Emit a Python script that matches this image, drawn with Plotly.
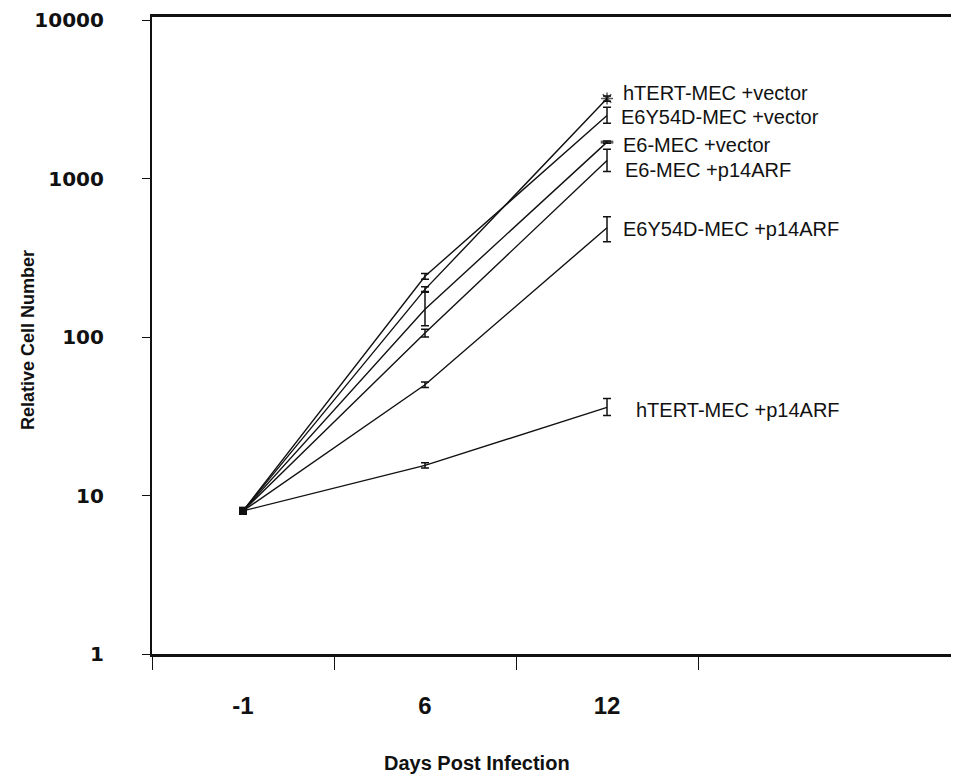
import plotly.graph_objects as go

# ---- data ----
days = ["-1", "6", "12"]
series_names = [
    "hTERT-MEC +vector",
    "E6Y54D-MEC +vector",
    "E6-MEC +vector",
    "E6-MEC +p14ARF",
    "E6Y54D-MEC +p14ARF",
    "hTERT-MEC +p14ARF",
]
hTERT_vector = [8.0, 200, 3200]
E6Y54D_vector = [8.0, 242, 2500]
E6_vector = [8.0, 150, 1700]
E6_p14ARF = [8.0, 106, 1300]
E6Y54D_p14ARF = [8.0, 50, 490]
hTERT_p14ARF = [8.0, 15.5, 36]

err_plus = {
    "hTERT-MEC +vector": [0, 8, 120],
    "E6Y54D-MEC +vector": [0, 10, 320],
    "E6-MEC +vector": [0, 44, 30],
    "E6-MEC +p14ARF": [0, 6, 230],
    "E6Y54D-MEC +p14ARF": [0, 2, 85],
    "hTERT-MEC +p14ARF": [0, 0.6, 5],
}
err_minus = {
    "hTERT-MEC +vector": [0, 8, 120],
    "E6Y54D-MEC +vector": [0, 10, 260],
    "E6-MEC +vector": [0, 32, 30],
    "E6-MEC +p14ARF": [0, 6, 190],
    "E6Y54D-MEC +p14ARF": [0, 2, 90],
    "hTERT-MEC +p14ARF": [0, 0.6, 4],
}
values = [hTERT_vector, E6Y54D_vector, E6_vector, E6_p14ARF, E6Y54D_p14ARF, hTERT_p14ARF]

y_ticks = [1, 10, 100, 1000, 10000]
y_tick_labels = ["1", "10", "100", "1000", "10000"]

# ---- figure ----
xpos = list(range(len(days)))
fig = go.Figure()

end_symbols = {
    "hTERT-MEC +vector": ("asterisk-open", 10, 1.5),
    "E6-MEC +vector": ("line-ew-open", 9, 3),
}

for name, vals in zip(series_names, values):
    sym_end, size_end, lw_end = end_symbols.get(name, ("circle", 0, 0))
    fig.add_trace(go.Scatter(
        x=xpos, y=vals, mode="lines+markers", name=name,
        line=dict(color="#111111", width=1.4),
        marker=dict(
            symbol=["square", "circle", sym_end],
            size=[8, 0, size_end],
            color="#111111",
            line=dict(color="#111111", width=[0, 0, lw_end]),
        ),
        error_y=dict(type="data", symmetric=False,
                     array=err_plus[name], arrayminus=err_minus[name],
                     color="#111111", thickness=1.5, width=4),
        showlegend=False,
    ))

label_pos = {
    "hTERT-MEC +vector": (2.077, 3.539),
    "E6Y54D-MEC +vector": (2.066, 3.388),
    "E6-MEC +vector": (2.077, 3.211),
    "E6-MEC +p14ARF": (2.088, 3.054),
    "E6Y54D-MEC +p14ARF": (2.077, 2.681),
    "hTERT-MEC +p14ARF": (2.148, 1.539),
}
for name in series_names:
    lx, ly = label_pos[name]
    fig.add_annotation(x=lx, y=ly, xref="x", yref="y", text=name, showarrow=False,
                       xanchor="left", yanchor="middle",
                       font=dict(family="Liberation Sans", size=20, color="#111111"))

# page body has an 8px margin; compensate so the plot lands where the reference has it
OFF = 8
L, T, B = 152 - OFF, 17 - OFF, 778 - 654
W, H = 959 - OFF, 778 - OFF
plot_w = W - L
plot_h = H - T - B

# axis titles
fig.add_annotation(x=(477 - 152) / plot_w, y=-(763 - 654) / plot_h, xref="paper", yref="paper",
                   text="Days Post Infection", showarrow=False, xanchor="center", yanchor="middle",
                   font=dict(family="Liberation Sans", size=20, color="#111111", weight="bold"))
fig.add_annotation(x=-(152 - 28) / plot_w, y=(654 - 340) / plot_h, xref="paper", yref="paper",
                   text="Relative Cell Number", showarrow=False, textangle=-90,
                   xanchor="center", yanchor="middle",
                   font=dict(family="Liberation Sans", size=18, color="#111111", weight="bold"))

fig.update_layout(
    width=W, height=H,
    margin=dict(l=L, r=0, t=T, b=B),
    paper_bgcolor="white", plot_bgcolor="white",
    xaxis=dict(
        range=[-0.5, 3.934], showgrid=False, zeroline=False,
        showline=True, linecolor="#111111", linewidth=2.5, mirror=True,
        tickmode="array", tickvals=xpos, ticktext=days, ticks="",
        ticklabelstandoff=28,
        tickfont=dict(family="Liberation Sans", size=24, color="#111111", weight="bold"),
        minor=dict(tickmode="array", tickvals=[-0.5, 0.5, 1.5, 2.5], ticks="outside",
                   ticklen=13, tickwidth=1.2, tickcolor="#111111", showgrid=False),
    ),
    yaxis=dict(
        type="log", range=[0, 4.02], showgrid=False, zeroline=False,
        showline=True, linecolor="#111111", linewidth=2.2, mirror=False,
        tickmode="array", tickvals=y_ticks, ticktext=y_tick_labels,
        ticks="outside", ticklen=8, tickwidth=1.2, tickcolor="#111111",
        ticklabelstandoff=34,
        tickfont=dict(family="DejaVu Sans", size=20, color="#111111", weight="bold"),
    ),
)

fig.write_html("out.html")
